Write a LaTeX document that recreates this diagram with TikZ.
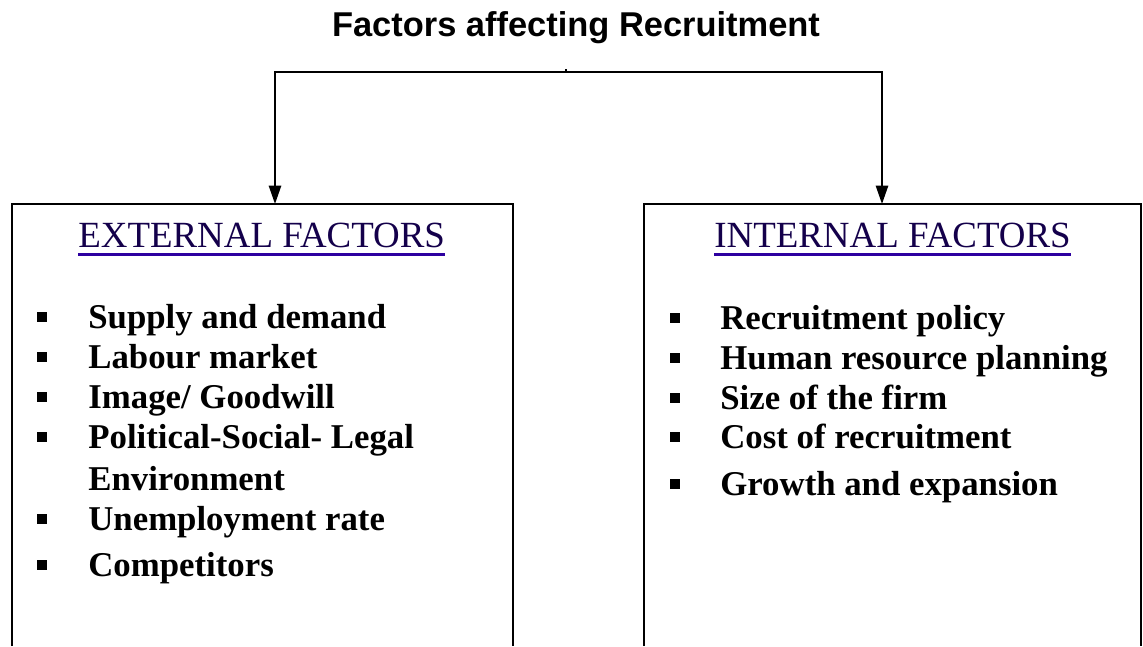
\documentclass[tikz,border=0pt]{standalone}
\usepackage{fontspec}
\setmainfont{Liberation Serif}
\newfontfamily\titlefont{Liberation Sans}
\usetikzlibrary{arrows.meta}
\definecolor{headblue}{RGB}{20,0,75}
\definecolor{lineblue}{RGB}{45,0,160}

\begin{document}
\begin{tikzpicture}[x=0.02cm, y=-0.02cm,
        item/.style={anchor=base west, inner sep=0pt, font=\fontsize{19.8pt}{24pt}\selectfont\bfseries},
        head/.style={anchor=base west, inner sep=0pt, text=headblue, font=\fontsize{21pt}{24pt}\selectfont},
        uline/.style={draw=lineblue, line width=1.8pt},
        bul/.style={fill=black, inner sep=0pt, minimum size=5.3pt},
        frame/.style={black, line width=1.1pt},
        arr/.style={black, line width=1.1pt, -{Triangle[length=10.5pt, width=7pt]}}]
        \useasboundingbox (0,0) rectangle (1143,646);
        \fill[white] (0,0) rectangle (1143,646);

        \node[font=\titlefont\fontsize{19.6pt}{22pt}\selectfont\bfseries] (title) at (576,28) {Factors affecting Recruitment};

        % connector
        \coordinate (hub) at (566,72);
        \coordinate (extTop) at (275,204);
        \coordinate (intTop) at (882,204);
        \draw[frame] (hub) -- ++(0,-3);
        \draw[arr] (hub) -| (extTop);
        \draw[arr] (hub) -| (intTop);

        % boxes, open at the bottom
        \draw[frame] (12,646) |- (513,204) -- (513,646);
        \draw[frame] (644,646) |- (1141,204) -- (1141,646);

        % external
        \node[head] (exthead) at (78,247) {EXTERNAL FACTORS};
        \draw[uline] ([yshift=-4.5pt]exthead.base west) -- ([yshift=-4.5pt]exthead.base east);

        \node[bul] (eb1) at (42,317) {};
        \node[bul] (eb2) at (42,357) {};
        \node[bul] (eb3) at (42,397) {};
        \node[bul] (eb4) at (42,437) {};
        \node[bul] (eb5) at (42,519) {};
        \node[bul] (eb6) at (42,565) {};

        \node[item] (supply) at (88,328) {Supply and demand};
        \node[item] (labour) at (88,368) {Labour market};
        \node[item] (image) at (88,408) {Image/ Goodwill};
        \node[item] (polit) at (88,448) {Political-Social- Legal};
        \node[item] (envir) at (88,490) {Environment};
        \node[item] (unempl) at (88,530) {Unemployment rate};
        \node[item] (compet) at (88,576) {Competitors};

        % internal
        \node[head] (inthead) at (714,247) {INTERNAL FACTORS};
        \draw[uline] ([yshift=-4.5pt]inthead.base west) -- ([yshift=-4.5pt]inthead.base east);

        \node[bul] (ib1) at (675,318) {};
        \node[bul] (ib2) at (675,358) {};
        \node[bul] (ib3) at (675,398) {};
        \node[bul] (ib4) at (675,437) {};
        \node[bul] (ib5) at (675,484) {};

        \node[item] (policy) at (720,329) {Recruitment policy};
        \node[item] (hrp) at (720,369) {Human resource planning};
        \node[item] (size) at (720,409) {Size of the firm};
        \node[item] (cost) at (720,448) {Cost of recruitment};
        \node[item] (growth) at (720,495) {Growth and expansion};
    \end{tikzpicture}
\end{document}
